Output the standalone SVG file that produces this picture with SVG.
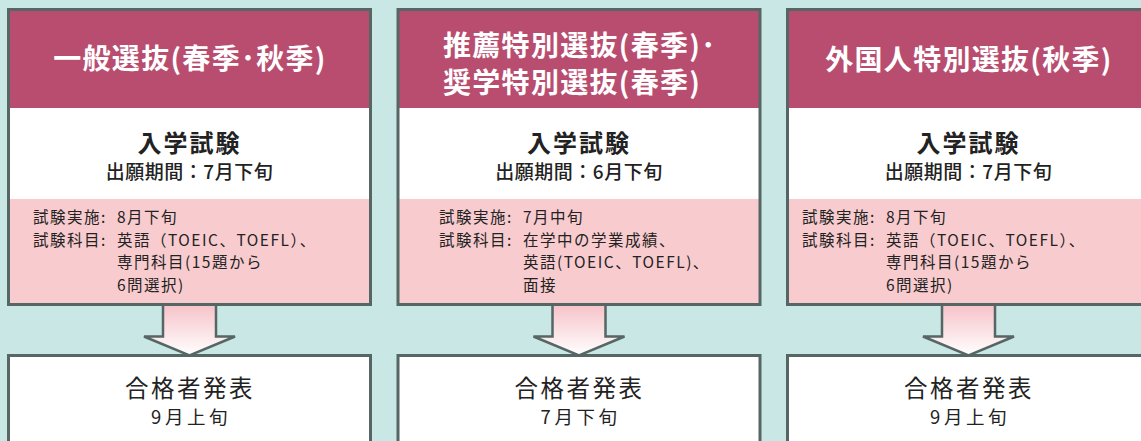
<svg xmlns="http://www.w3.org/2000/svg" width="1141" height="441" viewBox="0 0 1141 441">
<style>
.frame{fill:none;stroke:#566664;stroke-width:3}
.hdr{fill:#b84d6f}
.wht{fill:#ffffff}
.pnk{fill:#f8cbce}
.box{fill:#ffffff;stroke:#566664;stroke-width:3}
.t{font-family:'Noto Sans CJK JP',sans-serif;fill:#222222}
.h{font-family:'Noto Sans CJK JP',sans-serif;fill:#ffffff;font-size:28px;font-weight:bold;letter-spacing:1.3px}
.title{font-size:24px;font-weight:bold;letter-spacing:2px;text-anchor:middle}
.sub{font-size:19px;font-weight:500;letter-spacing:0.5px;text-anchor:middle}
.det{font-size:15.5px;letter-spacing:1.5px}
.res{font-size:23.5px;letter-spacing:2.5px;text-anchor:middle}
.resd{font-size:18.5px;letter-spacing:3.5px;text-anchor:middle}
.arr{fill:url(#ag);stroke:none}
.arrs{fill:none;stroke:#566664;stroke-width:2.5;stroke-linejoin:miter}
</style>
<defs>
<linearGradient id="ag" x1="0" y1="0" x2="0" y2="1">
<stop offset="0" stop-color="#f6c2c8"/>
<stop offset="1" stop-color="#ffffff"/>
</linearGradient>
</defs>
<rect x="0" y="0" width="1141" height="441" fill="#c8e7e5"/>

<g id="connectors">
<g transform="translate(189.5,0)">
<path class="arr" d="M-26.5,304.5 V336.5 H-45.5 L0,355.5 L45.5,336.5 H26.5 V304.5 Z"/>
<path class="arrs" d="M-26.5,304.5 V336.5 H-45.5 L0,355.5 L45.5,336.5 H26.5 V304.5"/>
</g>
<g transform="translate(579,0)">
<path class="arr" d="M-26.5,304.5 V336.5 H-45.5 L0,355.5 L45.5,336.5 H26.5 V304.5 Z"/>
<path class="arrs" d="M-26.5,304.5 V336.5 H-45.5 L0,355.5 L45.5,336.5 H26.5 V304.5"/>
</g>
<g transform="translate(968.5,0)">
<path class="arr" d="M-26.5,304.5 V336.5 H-45.5 L0,355.5 L45.5,336.5 H26.5 V304.5 Z"/>
<path class="arrs" d="M-26.5,304.5 V336.5 H-45.5 L0,355.5 L45.5,336.5 H26.5 V304.5"/>
</g>
</g>

<g id="exam-general">
<rect class="hdr" x="8.5" y="9.5" width="362" height="98.5"/>
<rect class="wht" x="8.5" y="108" width="362" height="91"/>
<rect class="pnk" x="8.5" y="199" width="362" height="105.5"/>
<rect class="frame" x="8.5" y="9.5" width="362" height="295"/>
<text class="h" x="190" y="69" text-anchor="middle">一般選抜(春季･秋季)</text>
<text class="t title" x="189.5" y="151.5">入学試験</text>
<text class="t sub" x="189.5" y="178.5">出願期間：7月下旬</text>
<text class="t det" x="33" y="223">試験実施:<tspan x="117">8月下旬</tspan></text>
<text class="t det" x="33" y="245.7">試験科目:<tspan x="117">英語（TOEIC、TOEFL）、</tspan></text>
<text class="t det" x="117" y="268.3">専門科目(15題から</text>
<text class="t det" x="117" y="291">6問選択)</text>
</g>

<g id="exam-recommend">
<rect class="hdr" x="398" y="9.5" width="362" height="98.5"/>
<rect class="wht" x="398" y="108" width="362" height="91"/>
<rect class="pnk" x="398" y="199" width="362" height="105.5"/>
<rect class="frame" x="398" y="9.5" width="362" height="295"/>
<text class="h" x="443" y="55.6">推薦特別選抜(春季)･</text>
<text class="h" x="443" y="92.6">奨学特別選抜(春季)</text>
<text class="t title" x="579" y="151.5">入学試験</text>
<text class="t sub" x="579" y="178.5">出願期間：6月下旬</text>
<text class="t det" x="439" y="223">試験実施:<tspan x="523">7月中旬</tspan></text>
<text class="t det" x="439" y="245.7">試験科目:<tspan x="523">在学中の学業成績、</tspan></text>
<text class="t det" x="523" y="268.3">英語(TOEIC、TOEFL)、</text>
<text class="t det" x="523" y="291">面接</text>
</g>

<g id="exam-foreign">
<rect class="hdr" x="787.5" y="9.5" width="362" height="98.5"/>
<rect class="wht" x="787.5" y="108" width="362" height="91"/>
<rect class="pnk" x="787.5" y="199" width="362" height="105.5"/>
<rect class="frame" x="787.5" y="9.5" width="362" height="295"/>
<text class="h" x="969" y="69.5" text-anchor="middle">外国人特別選抜(秋季)</text>
<text class="t title" x="968.5" y="151.5">入学試験</text>
<text class="t sub" x="968.5" y="178.5">出願期間：7月下旬</text>
<text class="t det" x="802" y="223">試験実施:<tspan x="886">8月下旬</tspan></text>
<text class="t det" x="802" y="245.7">試験科目:<tspan x="886">英語（TOEIC、TOEFL）、</tspan></text>
<text class="t det" x="886" y="268.3">専門科目(15題から</text>
<text class="t det" x="886" y="291">6問選択)</text>
</g>

<g id="result-general">
<rect class="box" x="8.5" y="355.5" width="362" height="100"/>
<text class="t res" x="190" y="397">合格者発表</text>
<text class="t resd" x="191" y="424">9月上旬</text>
</g>
<g id="result-recommend">
<rect class="box" x="398" y="355.5" width="362" height="100"/>
<text class="t res" x="579.5" y="397">合格者発表</text>
<text class="t resd" x="580.5" y="424">7月下旬</text>
</g>
<g id="result-foreign">
<rect class="box" x="787.5" y="355.5" width="362" height="100"/>
<text class="t res" x="969" y="397">合格者発表</text>
<text class="t resd" x="970" y="424">9月上旬</text>
</g>
</svg>
